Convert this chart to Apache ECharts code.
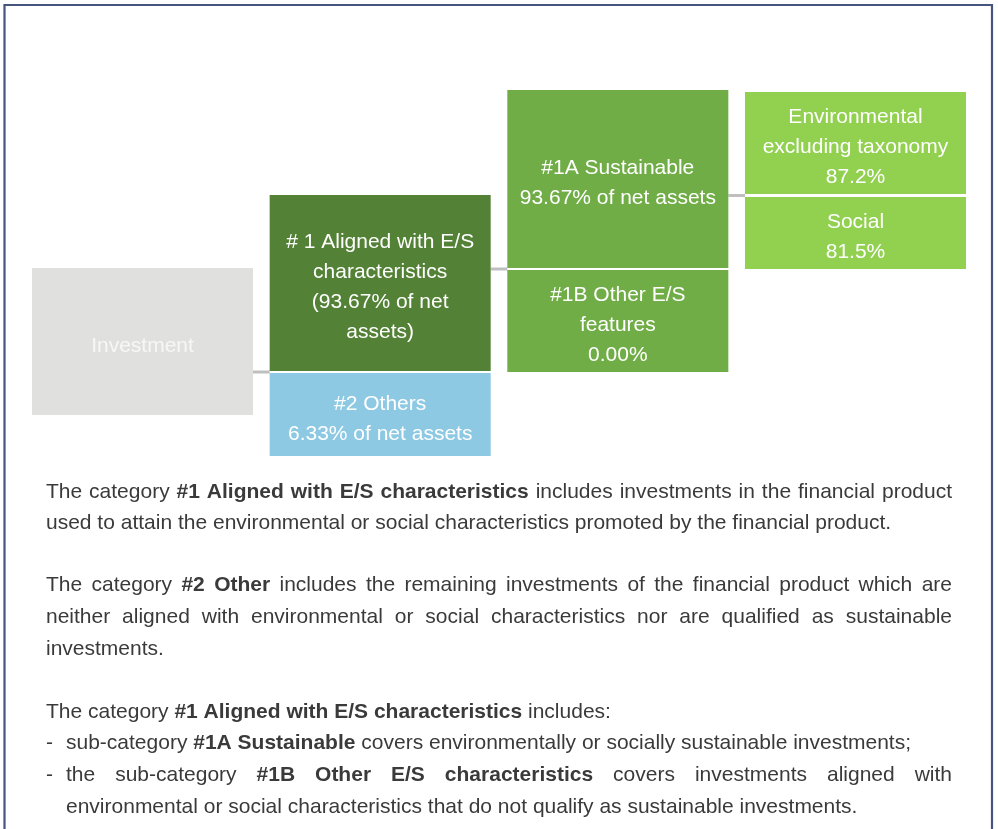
<!DOCTYPE html>
<html>
<head>
<meta charset="utf-8">
<script src="https://cdn.jsdelivr.net/npm/echarts@6/dist/echarts.min.js"></script>
<style>
  html, body { margin: 0; padding: 0; background: #ffffff; }
  #chart { width: 998px; height: 829px; }
</style>
</head>
<body>
<div id="chart"></div>
<script>
// ---------------- data ----------------
const nodeNames = [
  'Investment',
  '# 1 Aligned with E/S\ncharacteristics',
  '#2 Others',
  '#1A Sustainable',
  '#1B Other E/S\nfeatures',
  'Environmental\nexcluding taxonomy',
  'Social'
];
const nodeValues = [null, 93.67, 6.33, 93.67, 0.00, 87.2, 81.5];
const valueFormats = [
  '',
  '({v}% of net\nassets)',
  '{v}% of net assets',
  '{v}% of net assets',
  '{v}%',
  '{v}%',
  '{v}%'
];
const valueDecimals = [0, 2, 2, 2, 2, 1, 1];
// tree links: parent -> children
const links = [[0, [1, 2]], [1, [3, 4]], [3, [5, 6]]];

// ---------------- layout (not data) ----------------
const nodeCol = [0, 1, 1, 2, 2, 3, 3];
const nodeSpan = [[178, 325], [105, 281], [283, 366], [0, 178], [180, 282], [2, 104], [107, 179]];
const nodeColors = ['#e0e0df', '#538135', '#8dc9e3', '#70ad47', '#70ad47', '#92d050', '#92d050'];
const nodeTextColors = ['#f7f7f7', '#ffffff', '#ffffff', '#ffffff', '#ffffff', '#ffffff', '#ffffff'];
const BOX_W = 0.93;

// ---------------- explanatory text ----------------
const paraLines = [
  { y: 492, x: 46, justify: true,  segs: [['The category ', 0], ['#1 Aligned with E/S characteristics', 1], [' includes investments in the financial product', 0]] },
  { y: 523, x: 46, justify: false, segs: [['used to attain the environmental or social characteristics promoted by the financial product.', 0]] },
  { y: 585, x: 46, justify: true,  segs: [['The category ', 0], ['#2 Other', 1], [' includes the remaining investments of the financial product which are', 0]] },
  { y: 617, x: 46, justify: true,  segs: [['neither aligned with environmental or social characteristics nor are qualified as sustainable', 0]] },
  { y: 649, x: 46, justify: false, segs: [['investments.', 0]] },
  { y: 712, x: 46, justify: false, segs: [['The category ', 0], ['#1 Aligned with E/S characteristics', 1], [' includes:', 0]] },
  { y: 743, x: 66, bullet: true, justify: false, segs: [['sub-category ', 0], ['#1A Sustainable', 1], [' covers environmentally or socially sustainable investments;', 0]] },
  { y: 775, x: 66, bullet: true, justify: true,  segs: [['the sub-category ', 0], ['#1B Other E/S characteristics', 1], [' covers investments aligned with', 0]] },
  { y: 807, x: 66, justify: false, segs: [['environmental or social characteristics that do not qualify as sustainable investments.', 0]] }
];
const TEXT_RIGHT = 952;

// ---------------- build ----------------
const FONT_FAMILY = '"Liberation Sans", Arial, Helvetica, sans-serif';
const fontN = '21px ' + FONT_FAMILY;
const fontB = 'bold 21px ' + FONT_FAMILY;
const TEXT_COLOR = '#3a3a3a';

function nodeLabel(i) {
  let s = nodeNames[i];
  if (nodeValues[i] !== null) {
    s += '\n' + valueFormats[i].replace('{v}', nodeValues[i].toFixed(valueDecimals[i]));
  }
  return s;
}

const mctx = document.createElement('canvas').getContext('2d');
function measure(t, bold) {
  mctx.font = bold ? fontB : fontN;
  return mctx.measureText(t).width;
}

const graphicEls = [];
// frame
graphicEls.push({
  type: 'rect', silent: true,
  shape: { x: 4.5, y: 5, width: 987.5, height: 900 },
  style: { fill: 'none', stroke: '#46557d', lineWidth: 2.2 }
});

paraLines.forEach(function (ln) {
  const words = [];
  ln.segs.forEach(function (sg) {
    sg[0].split(' ').forEach(function (w) {
      if (w.length) words.push({ t: w, b: sg[1] });
    });
  });
  words.forEach(function (w) { w.w = measure(w.t, w.b); });
  const total = words.reduce(function (a, w) { return a + w.w; }, 0);
  let gap = measure(' ', false);
  if (ln.justify && words.length > 1) gap = (TEXT_RIGHT - ln.x - total) / (words.length - 1);
  let x = ln.x;
  words.forEach(function (w) {
    graphicEls.push({
      type: 'text', silent: true, x: x, y: ln.y,
      style: { text: w.t, font: w.b ? fontB : fontN, fill: TEXT_COLOR, textVerticalAlign: 'middle' }
    });
    x += w.w + gap;
  });
  if (ln.bullet) {
    graphicEls.push({
      type: 'text', silent: true, x: 46, y: ln.y,
      style: { text: '-', font: fontN, fill: TEXT_COLOR, textVerticalAlign: 'middle' }
    });
  }
});

const boxData = nodeNames.map(function (n, i) {
  return [nodeCol[i], nodeSpan[i][0], nodeSpan[i][1], i];
});

const linkData = links.map(function (l) {
  const p = l[0], c1 = l[1][0], c2 = l[1][1];
  const y = (nodeSpan[c1][1] + nodeSpan[c2][0]) / 2;
  return [nodeCol[p], y];
});

const chart = echarts.init(document.getElementById('chart'));
chart.setOption({
  animation: false,
  backgroundColor: '#ffffff',
  grid: { left: 32, top: 90, width: 934, height: 366 },
  xAxis: { type: 'value', min: 0, max: 3.93, show: false },
  yAxis: { type: 'value', min: 0, max: 366, inverse: true, show: false },
  series: [
    {
      type: 'custom',
      silent: true,
      data: linkData,
      renderItem: function (params, api) {
        const a = api.coord([api.value(0) + BOX_W, api.value(1)]);
        const b = api.coord([api.value(0) + 1, api.value(1)]);
        return {
          type: 'line',
          shape: { x1: a[0], y1: a[1], x2: b[0], y2: b[1] },
          style: { stroke: '#bfbfbf', lineWidth: 3 }
        };
      }
    },
    {
      type: 'custom',
      silent: true,
      data: boxData,
      renderItem: function (params, api) {
        const i = api.value(3);
        const p1 = api.coord([api.value(0), api.value(1)]);
        const p2 = api.coord([api.value(0) + BOX_W, api.value(2)]);
        return {
          type: 'group',
          children: [
            {
              type: 'rect',
              shape: { x: p1[0], y: p1[1], width: p2[0] - p1[0], height: p2[1] - p1[1] },
              style: { fill: nodeColors[i] }
            },
            {
              type: 'text',
              x: (p1[0] + p2[0]) / 2,
              y: (p1[1] + p2[1]) / 2 + 4.5,
              style: {
                text: nodeLabel(i),
                font: fontN,
                fill: nodeTextColors[i],
                textAlign: 'center',
                textVerticalAlign: 'middle',
                lineHeight: 30
              }
            }
          ]
        };
      }
    }
  ],
  graphic: { elements: graphicEls }
});
</script>
</body>
</html>
